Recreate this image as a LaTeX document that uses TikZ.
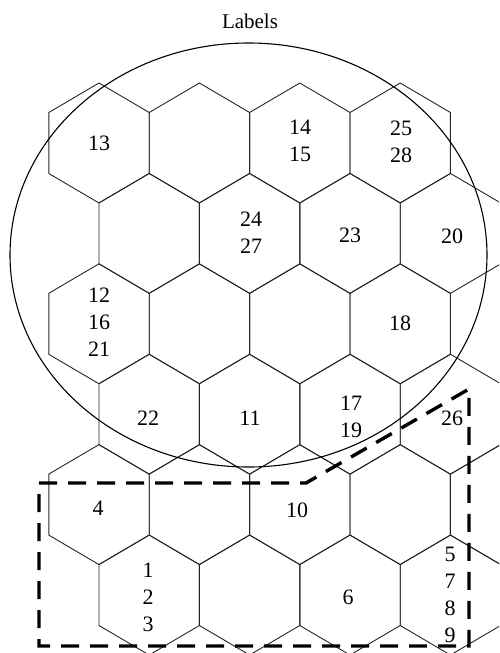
\documentclass[tikz,border=0pt]{standalone}
\usepackage{fontspec}
\setmainfont{Liberation Serif}
\begin{document}
\begin{tikzpicture}[x=1pt,y=-1pt,
  hexline/.style={draw=black!85, line width=0.9pt, line join=miter},
  lbl/.style={font=\fontsize{22}{27}\selectfont, align=center, inner sep=0pt},
  zone/.style={draw=black, line width=3.4pt, dash pattern=on 18pt off 11pt, line join=miter},
  ring/.style={draw=black, line width=1.1pt}]
\useasboundingbox (0,0) rectangle (499,653);
\begin{scope}
\clip (0,0) rectangle (499,653);
\foreach \cx/\ty in {99/83, 199.4/83, 299.8/83, 400.2/83,
  149.2/173.4, 249.6/173.4, 350/173.4, 450.4/173.4,
  99/263.8, 199.4/263.8, 299.8/263.8, 400.2/263.8,
  149.2/354.2, 249.6/354.2, 350/354.2, 450.4/354.2,
  99/444.6, 199.4/444.6, 299.8/444.6, 400.2/444.6, 500.6/444.6,
  149.2/535, 249.6/535, 350/535, 450.4/535}
{
  \draw[hexline] (\cx,\ty) -- ++(50.2,29.5) -- ++(0,61) -- ++(-50.2,29.5)
     -- ++(-50.2,-29.5) -- ++(0,-61) -- cycle;
}
\draw[ring] (248.5,255) ellipse [x radius=238.5, y radius=212];
\draw[zone] (39,483) -- (306,483) -- (469,389) -- (469,646) -- (39,646) -- cycle;
\end{scope}
\node[lbl, font=\fontsize{21}{25}\selectfont] (title) at (250,21) {Labels};
\node[lbl] (l13) at (99,143) {13};
\node[lbl] (l1415) at (300,141) {14\\15};
\node[lbl] (l2528) at (401,142) {25\\28};
\node[lbl] (l2427) at (251,233) {24\\27};
\node[lbl] (l23) at (350,235) {23};
\node[lbl] (l20) at (452,236) {20};
\node[lbl] (l121621) at (99,322) {12\\16\\21};
\node[lbl] (l18) at (400,323) {18};
\node[lbl] (l22) at (148,418) {22};
\node[lbl] (l11) at (250,418) {11};
\node[lbl] (l1719) at (351,417) {17\\19};
\node[lbl] (l26) at (452,418) {26};
\node[lbl] (l4) at (98,508) {4};
\node[lbl] (l10) at (297,510) {10};
\node[lbl] (l123) at (148,597) {1\\2\\3};
\node[lbl] (l6) at (348,597) {6};
\node[lbl] (l5789) at (450,595) {5\\7\\8\\9};
\end{tikzpicture}
\end{document}
